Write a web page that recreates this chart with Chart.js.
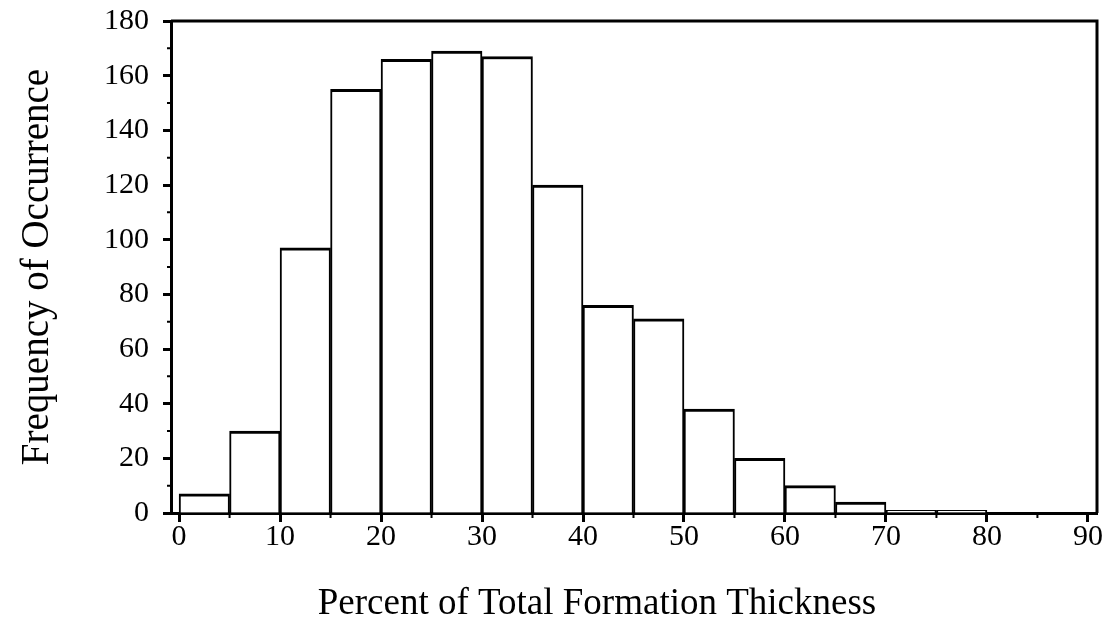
<!DOCTYPE html>
<html>
<head>
<meta charset="utf-8">
<script src="https://cdn.jsdelivr.net/npm/chart.js@4"></script>
<style>
  html, body { margin: 0; padding: 0; background: #fff; }
  #wrap { width: 1107px; height: 638px; }
</style>
</head>
<body>
<div id="wrap"><canvas id="c" width="1107" height="638"></canvas></div>
<script>
// Histogram bins (percent of total formation thickness), bin width 5
const binStarts = [0, 5, 10, 15, 20, 25, 30, 35, 40, 45, 50, 55, 60, 65, 70, 75];
const binWidth = 5;
const frequencies = [7, 30, 97, 155, 166, 169, 167, 120, 76, 71, 38, 20, 10, 4, 1, 1];
const xMajorTicks = [0, 10, 20, 30, 40, 50, 60, 70, 80, 90];
const xMinorTicks = [5, 15, 25, 35, 45, 55, 65, 75, 85];
const yMajorTicks = [0, 20, 40, 60, 80, 100, 120, 140, 160, 180];
const yMinorTicks = [10, 30, 50, 70, 90, 110, 130, 150, 170];
const xTitle = 'Percent of Total Formation Thickness';
const yTitle = 'Frequency of Occurrence';

const points = binStarts.map((s, i) => ({ x: s + binWidth / 2, y: frequencies[i] }));
const FONT = "'Liberation Serif', 'Times New Roman', serif";

const framePlugin = {
  id: 'frame',
  afterDraw(chart) {
    const { ctx, chartArea: a, scales } = chart;
    ctx.save();
    ctx.strokeStyle = '#000';
    ctx.lineWidth = 3;
    ctx.beginPath();
    ctx.moveTo(a.left, a.top);
    ctx.lineTo(a.right, a.top);
    ctx.lineTo(a.right, a.bottom);
    ctx.stroke();
    // minor ticks
    ctx.lineWidth = 2;
    ctx.beginPath();
    xMinorTicks.forEach(v => {
      const px = scales.x.getPixelForValue(v);
      ctx.moveTo(px, a.bottom);
      ctx.lineTo(px, a.bottom + 5);
    });
    yMinorTicks.forEach(v => {
      const py = scales.y.getPixelForValue(v);
      ctx.moveTo(a.left, py);
      ctx.lineTo(a.left - 4, py);
    });
    ctx.stroke();
    ctx.restore();
  }
};

new Chart(document.getElementById('c'), {
  type: 'bar',
  data: {
    datasets: [{
      data: points,
      backgroundColor: '#fff',
      borderColor: '#000',
      borderWidth: { top: 3, left: 2, right: 2, bottom: 0 },
      borderSkipped: false,
      barPercentage: 1,
      categoryPercentage: 1
    }]
  },
  options: {
    responsive: false,
    animation: false,
    devicePixelRatio: 1,
    layout: { padding: { left: 0, right: 10, top: 21, bottom: 0 } },
    plugins: { legend: { display: false }, tooltip: { enabled: false } },
    scales: {
      x: {
        type: 'linear',
        min: -0.8,
        max: 90.9,
        offset: false,
        afterBuildTicks: s => { s.ticks = xMajorTicks.map(v => ({ value: v })); },
        afterFit: s => { s.height = 125; s.paddingLeft = 0; s.paddingRight = 0; },
        grid: { offset: false, drawOnChartArea: false, drawTicks: true, tickLength: 9, tickWidth: 3, color: '#000' },
        border: { display: true, color: '#000', width: 3 },
        ticks: { color: '#000', font: { family: FONT, size: 30 }, padding: -3, maxRotation: 0, autoSkip: false },
        title: { display: true, text: xTitle + '        ', color: '#000', font: { family: FONT, size: 37 }, padding: { top: 0, bottom: 12 } }
      },
      y: {
        min: 0,
        max: 180,
        afterBuildTicks: s => { s.ticks = yMajorTicks.map(v => ({ value: v })); },
        afterFit: s => { s.width = 171; s.paddingTop = 0; s.paddingBottom = 0; },
        grid: { drawOnChartArea: false, drawTicks: true, tickLength: 8, tickWidth: 3, color: '#000' },
        border: { display: true, color: '#000', width: 3 },
        ticks: { color: '#000', font: { family: FONT, size: 30 }, padding: 14, autoSkip: false },
        title: { display: true, text: yTitle, color: '#000', font: { family: FONT, size: 39 }, padding: { top: 14, bottom: 0 } }
      }
    }
  },
  plugins: [framePlugin]
});
</script>
</body>
</html>
